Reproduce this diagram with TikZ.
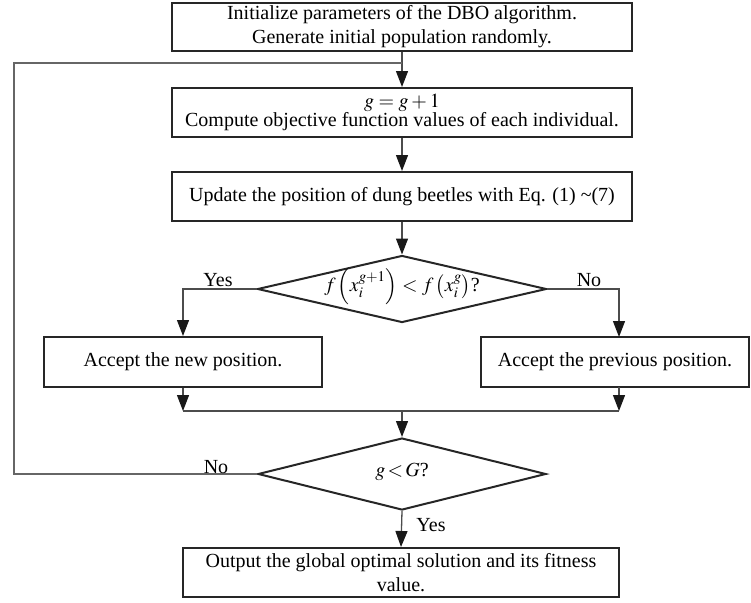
\documentclass[tikz,border=0pt]{standalone}
\usepackage{mathptmx}
\usepackage[no-math]{fontspec}
\setmainfont{Liberation Serif}
\usetikzlibrary{shapes.geometric,arrows.meta}
\begin{document}
\begin{tikzpicture}[x=1pt,y=-1pt,
  txt/.style={font=\fontsize{20}{24}\selectfont},
  box/.style={txt, draw=black!85, line width=2pt, rectangle, inner sep=0pt, align=center},
  dec/.style={txt, draw=black!85, line width=2pt, diamond, inner sep=0pt, aspect=4.2,
    text height=9pt, text depth=4pt},
  conn/.style={draw=black!70, line width=1.3pt},
  arr/.style={conn, -{Triangle[length=16pt,width=12pt,color=black!90]}},
  lbl/.style={txt, inner sep=0pt}]
\useasboundingbox (0,0) rectangle (751,602);

\node[box, minimum width=460pt, minimum height=48pt] (b1) at (402,27)
  {Initialize parameters of the DBO algorithm.\\Generate initial population randomly.};
\node[box, minimum width=460pt, minimum height=49pt] (b2) at (402,112.5)
  {$g=g+1$\\[-5pt]Compute objective function values of each individual.};
\node[box, minimum width=460pt, minimum height=49pt] (b3) at (402,196.5)
  {Update the position of dung beetles with Eq. (1) \textasciitilde(7)};
\node[dec, minimum width=289pt, minimum height=67pt] (d1) at (402,289)
  {$f\left(x_i^{g+1}\right) < f\left(x_i^{g}\right)$?};
\node[box, minimum width=278pt, minimum height=50pt] (b4) at (183,362)
  {Accept the new position.};
\node[box, minimum width=268pt, minimum height=50pt] (b5) at (615,362)
  {Accept the previous position.};
\node[dec, minimum width=288pt, minimum height=72pt] (d2) at (402,474)
  {$g\,{<}\,G$?};
\node[box, minimum width=436pt, minimum height=49pt] (b6) at (401,572.5)
  {Output the global optimal solution and its fitness\\value.};

\coordinate (lj) at (402,63);
\coordinate (yl) at (183,289);
\coordinate (nr) at (619,289);
\coordinate (b5t) at (619,337);
\coordinate (b5b) at (619,387);
\coordinate (ml) at (183,411);
\coordinate (mr) at (619,411);
\coordinate (mm) at (402,411);
\coordinate (lb) at (14,474);
\coordinate (lt) at (14,63);

\draw[arr] (b1.south) -- (b2.north);
\draw[conn, draw=black!60] (d2.west) -- (lb) -- (lt) -- (lj);
\draw[arr] (b2.south) -- (b3.north);
\draw[arr] (b3.south) -- (d1.north);
\draw[arr] (d1.west) -- (yl) -- (b4.north);
\draw[arr] (d1.east) -- (nr) -- (b5t);
\draw[arr] (b4.south) -- (ml);
\draw[arr] (b5b) -- (mr);
\draw[conn] (ml) -- (mr);
\draw[arr] (mm) -- (d2.north);
\draw[arr] (d2.south) -- (b6.north);

\node[lbl] (ly1) at (218,280) {Yes};
\node[lbl] (ln1) at (589,280) {No};
\node[lbl] (ln2) at (216,467) {No};
\node[lbl] (ly2) at (431,525) {Yes};
\end{tikzpicture}
\end{document}
